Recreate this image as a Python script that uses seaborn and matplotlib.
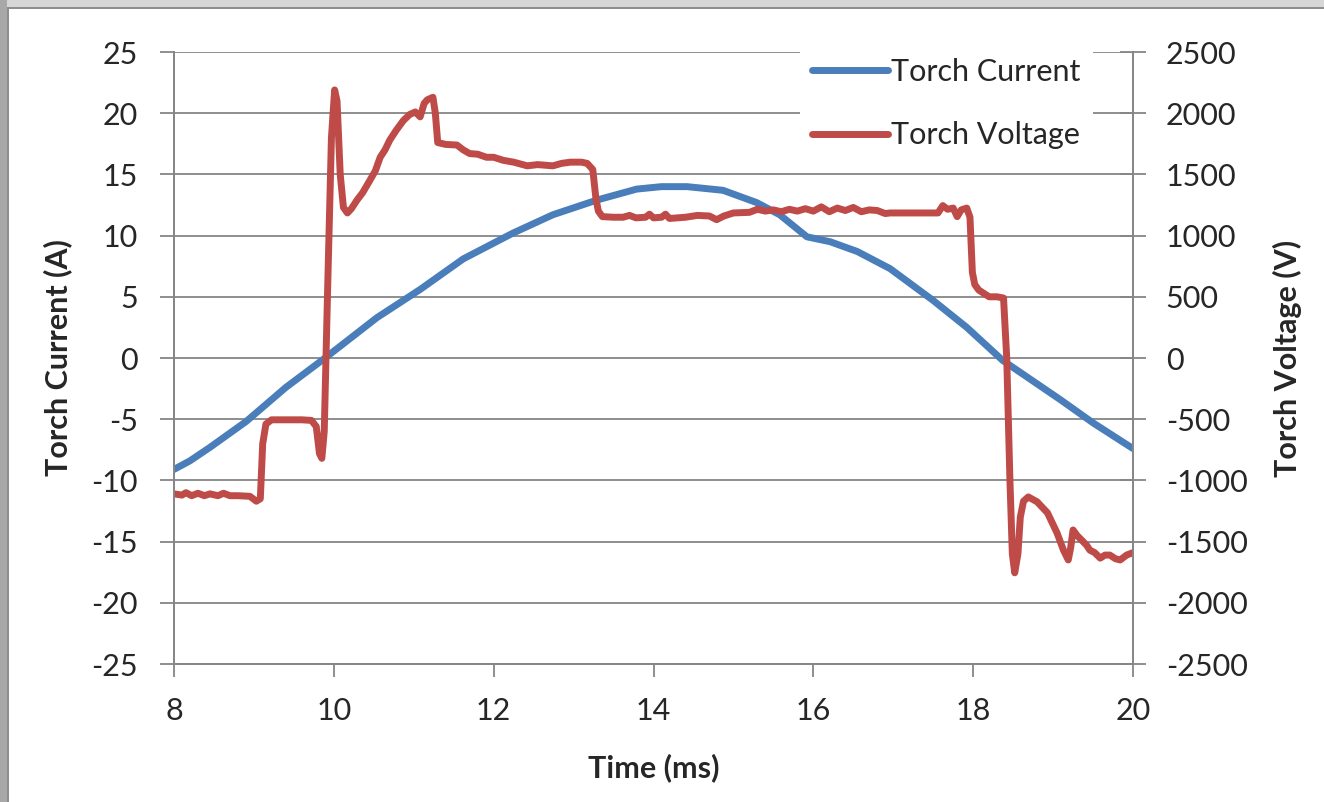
import matplotlib
matplotlib.use("Agg")
import matplotlib.pyplot as plt
from matplotlib.patches import Rectangle
import numpy as np
import pandas as pd
import seaborn as sns

# Torch current trace (time in ms, current in A)
current_time = [8.00, 8.20, 8.45, 8.90, 9.40, 9.87, 10.54, 11.08, 11.62, 12.24,
                12.74, 13.29, 13.79, 14.10, 14.42, 14.87, 15.29, 15.58, 15.92,
                16.21, 16.55, 16.96, 17.50, 17.92, 18.37, 19.09, 19.50, 20.00]
current_amps = [-9.1, -8.4, -7.3, -5.2, -2.4, -0.1, 3.3, 5.6, 8.1, 10.2,
                11.7, 12.9, 13.8, 14.0, 14.0, 13.7, 12.7, 11.7, 9.9,
                9.5, 8.7, 7.3, 4.7, 2.5, -0.2, -3.4, -5.3, -7.4]

# Torch voltage trace (time in ms, voltage in V)
voltage_time = [8.00, 8.10, 8.15, 8.22, 8.30, 8.38, 8.45, 8.55, 8.62, 8.70, 8.80,
                8.95, 9.03, 9.08, 9.11, 9.15, 9.22, 9.40, 9.60, 9.72, 9.78, 9.82,
                9.85, 9.88, 9.92, 9.97, 10.01, 10.04, 10.08, 10.12, 10.17, 10.22,
                10.29, 10.36, 10.45, 10.52, 10.58, 10.64, 10.70, 10.78, 10.87,
                10.95, 11.02, 11.08, 11.13, 11.17, 11.24, 11.27, 11.30, 11.40,
                11.54, 11.62, 11.70, 11.80, 11.91, 12.00, 12.12, 12.25, 12.42,
                12.55, 12.74, 12.85, 12.96, 13.10, 13.17, 13.24, 13.28, 13.31,
                13.36, 13.50, 13.62, 13.70, 13.78, 13.90, 13.95, 14.00, 14.10,
                14.15, 14.20, 14.40, 14.55, 14.70, 14.79, 14.88, 15.00, 15.20,
                15.30, 15.40, 15.50, 15.60, 15.70, 15.80, 15.90, 16.00, 16.10,
                16.20, 16.30, 16.40, 16.50, 16.60, 16.70, 16.80, 16.90, 16.96,
                17.20, 17.40, 17.56, 17.62, 17.68, 17.75, 17.80, 17.85, 17.92,
                17.96, 17.99, 18.02, 18.07, 18.13, 18.20, 18.30, 18.38, 18.42,
                18.46, 18.49, 18.52, 18.56, 18.59, 18.63, 18.69, 18.80, 18.93,
                19.05, 19.13, 19.19, 19.22, 19.25, 19.30, 19.36, 19.42, 19.46,
                19.52, 19.59, 19.65, 19.71, 19.78, 19.84, 19.92, 20.00]
voltage_volts = [-1110, -1120, -1100, -1125, -1105, -1125, -1110, -1125, -1105, -1125, -1125,
                 -1130, -1170, -1150, -700, -540, -505, -505, -505, -510, -560, -780,
                 -820, -600, 500, 1800, 2190, 2100, 1500, 1230, 1185, 1220,
                 1290, 1350, 1450, 1530, 1640, 1700, 1780, 1860, 1940,
                 1990, 2010, 1970, 2080, 2110, 2130, 2000, 1760, 1745,
                 1740, 1700, 1670, 1665, 1640, 1640, 1615, 1600, 1570,
                 1580, 1570, 1590, 1600, 1600, 1590, 1540, 1300, 1200,
                 1155, 1150, 1150, 1165, 1145, 1150, 1175, 1145, 1150,
                 1175, 1140, 1150, 1165, 1160, 1130, 1160, 1185, 1190,
                 1215, 1200, 1210, 1195, 1215, 1200, 1220, 1200, 1235,
                 1195, 1225, 1205, 1230, 1195, 1210, 1205, 1180, 1185,
                 1185, 1185, 1185, 1245, 1215, 1225, 1155, 1210, 1225,
                 1150, 700, 600, 555, 530, 500, 500, 490, 0,
                 -1000, -1600, -1755, -1600, -1300, -1170, -1135, -1175, -1265,
                 -1430, -1570, -1650, -1550, -1405, -1450, -1490, -1530, -1570,
                 -1590, -1635, -1610, -1610, -1640, -1650, -1610, -1590]

x_ticks = [8, 10, 12, 14, 16, 18, 20]
current_ticks = [-25, -20, -15, -10, -5, 0, 5, 10, 15, 20, 25]
voltage_ticks = [-2500, -2000, -1500, -1000, -500, 0, 500, 1000, 1500, 2000, 2500]

current_df = pd.DataFrame({"Time (ms)": current_time, "Current": current_amps})
voltage_df = pd.DataFrame({"Time (ms)": voltage_time, "Voltage": voltage_volts})

sns.set_style("white")
plt.rcParams["font.family"] = ["Lato", "DejaVu Sans"]
plt.rcParams["axes.unicode_minus"] = False

BLUE = "#4A7EBB"
RED = "#BE4B48"
GRID = "#868686"
FS = 22
LW = 5.0

fig = plt.figure(figsize=(13.24, 8.02), dpi=100)
ax = fig.add_axes([174 / 1324, 138 / 802, (1133 - 174) / 1324, (664 - 52) / 802])
ax2 = ax.twinx()

sns.lineplot(data=current_df, x="Time (ms)", y="Current", ax=ax, color=BLUE,
             linewidth=LW, sort=False, estimator=None, label="Torch Current",
             legend=False, solid_joinstyle="round", solid_capstyle="round")
sns.lineplot(data=voltage_df, x="Time (ms)", y="Voltage", ax=ax2, color=RED,
             linewidth=LW, sort=False, estimator=None, label="Torch Voltage",
             legend=False, solid_joinstyle="round", solid_capstyle="round")

ax.set_xlim(8, 20)
ax.set_ylim(-25, 25)
ax2.set_ylim(-2500, 2500)
ax.set_xticks(x_ticks)
ax.set_yticks(current_ticks)
ax2.set_yticks(voltage_ticks)

ax.grid(axis="y", color=GRID, linewidth=1.3)
ax.grid(axis="x", visible=False)
ax2.grid(False)

for a in (ax, ax2):
    for s in a.spines.values():
        s.set_color(GRID)
        s.set_linewidth(1.3)
    a.spines["top"].set_visible(False)

ax.tick_params(axis="y", direction="out", length=10, width=1.3, color=GRID,
               labelsize=FS, pad=16, left=True)
ax.tick_params(axis="x", direction="out", length=9, width=1.3, color=GRID,
               labelsize=FS, pad=15, bottom=True)
ax2.tick_params(axis="y", direction="inout", length=19, width=1.3, color=GRID,
                labelsize=FS, pad=14, right=True)

ax.set_xlabel("Time (ms)", fontsize=FS, fontweight="bold", labelpad=20)
ax.set_ylabel("Torch Current (A)", fontsize=FS, fontweight="bold", labelpad=14)
ax2.set_ylabel("Torch Voltage (V)", fontsize=FS, fontweight="bold", labelpad=18)

ax2.set_zorder(ax.get_zorder() + 1)
ax2.patch.set_visible(False)

handles = ax.get_lines()[:1] + ax2.get_lines()[:1]
leg = ax2.legend(handles, ["Torch Current", "Torch Voltage"],
                 loc="upper right", bbox_to_anchor=(0.974, 1.035),
                 fontsize=FS, frameon=True, facecolor="white", edgecolor="none",
                 framealpha=1, handlelength=2.5, handletextpad=0.1,
                 labelspacing=1.15, borderpad=0.4, fancybox=False)
leg.set_zorder(2)

# Chart-area border along the top and left edges
fig.patches.append(Rectangle((0, 1 - 7 / 802), 1, 7 / 802, transform=fig.transFigure,
                             facecolor="#d6d6d6", edgecolor="none", zorder=0))
fig.patches.append(Rectangle((0, 1 - 9 / 802), 1, 2 / 802, transform=fig.transFigure,
                             facecolor="#8e8e8e", edgecolor="none", zorder=0))
fig.patches.append(Rectangle((0, 0), 7 / 1324, 1, transform=fig.transFigure,
                             facecolor="#a8a8a8", edgecolor="none", zorder=0))
fig.patches.append(Rectangle((7 / 1324, 0), 2 / 1324, 1 - 7 / 802, transform=fig.transFigure,
                             facecolor="#8e8e8e", edgecolor="none", zorder=0))

fig.savefig("out.png", dpi=100)
